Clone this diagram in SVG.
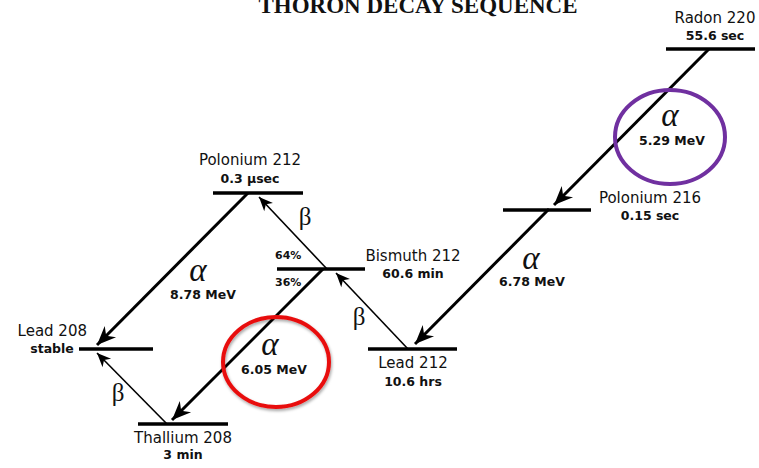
<svg xmlns="http://www.w3.org/2000/svg" width="759" height="468" viewBox="0 0 759 468">
<style>
.lvl{stroke:#000;stroke-width:3.5;fill:none}
.a{stroke:#000;stroke-width:3;fill:none;marker-end:url(#ah)}
.b{stroke:#000;stroke-width:1.6;fill:none;marker-end:url(#bh)}
.nm{font-family:"DejaVu Sans",sans-serif;font-size:15px;fill:#111;text-anchor:middle}
.hl{font-family:"DejaVu Sans",sans-serif;font-size:12.5px;font-weight:bold;fill:#111;text-anchor:middle}
.al{font-family:"Liberation Serif",serif;font-style:italic;font-size:33px;fill:#111;text-anchor:middle}
.be{font-family:"Liberation Serif",serif;font-size:25px;fill:#111;text-anchor:middle}
.pc{font-family:"DejaVu Sans",sans-serif;font-size:11px;font-weight:bold;fill:#111}
</style>
<defs>
<marker id="ah" markerUnits="userSpaceOnUse" markerWidth="24" markerHeight="20" viewBox="-20 -10 24 20" refX="0" refY="0" orient="auto">
<path d="M0,0 L-19,-8 L-13,0 L-19,8 Z" fill="#000"/>
</marker>
<marker id="bh" markerUnits="userSpaceOnUse" markerWidth="18" markerHeight="14" viewBox="-15 -7 18 14" refX="0" refY="0" orient="auto">
<path d="M0,0 L-14,-6 L-10,0 L-14,6 Z" fill="#000"/>
</marker>
<filter id="sh" x="-20%" y="-20%" width="140%" height="140%">
<feDropShadow dx="1" dy="2" stdDeviation="1.5" flood-color="#000" flood-opacity="0.35"/>
</filter>
</defs>
<text x="418" y="13" font-family="Liberation Serif, serif" font-weight="bold" font-size="23" text-anchor="middle" fill="#111">THORON DECAY SEQUENCE</text>

<g id="connectors">
<line class="a" x1="709" y1="49" x2="554" y2="205"/>
<line class="a" x1="549" y1="209" x2="415" y2="344"/>
<line class="a" x1="248" y1="193" x2="97" y2="345"/>
<line class="a" x1="323" y1="269" x2="172" y2="420"/>
<line class="b" x1="408" y1="349" x2="336" y2="273"/>
<line class="b" x1="327" y1="269" x2="259" y2="197"/>
<line class="b" x1="167" y1="424" x2="97" y2="353"/>
</g>

<g id="radon220">
<line class="lvl" x1="666" y1="49" x2="755" y2="49"/>
<text class="nm" x="715" y="23">Radon 220</text>
<text class="hl" x="715" y="40">55.6 sec</text>
</g>
<g id="polonium216">
<line class="lvl" x1="503" y1="210" x2="591" y2="210"/>
<text class="nm" x="650" y="203">Polonium 216</text>
<text class="hl" x="650" y="220">0.15 sec</text>
</g>
<g id="lead212">
<line class="lvl" x1="368" y1="349" x2="457" y2="349"/>
<text class="nm" x="413" y="368">Lead 212</text>
<text class="hl" x="413" y="386">10.6 hrs</text>
</g>
<g id="bismuth212">
<line class="lvl" x1="277" y1="269" x2="365" y2="269"/>
<text class="nm" x="413" y="261">Bismuth 212</text>
<text class="hl" x="413" y="278">60.6 min</text>
<text class="pc" x="275" y="259">64%</text>
<text class="pc" x="275" y="286">36%</text>
</g>
<g id="polonium212">
<line class="lvl" x1="213" y1="193" x2="303" y2="193"/>
<text class="nm" x="250" y="165">Polonium 212</text>
<text class="hl" x="250" y="183">0.3 µsec</text>
</g>
<g id="lead208">
<line class="lvl" x1="79" y1="349" x2="153" y2="349"/>
<text class="nm" x="87" y="336" style="text-anchor:end">Lead 208</text>
<text class="hl" x="52" y="353">stable</text>
</g>
<g id="thallium208">
<line class="lvl" x1="138" y1="424" x2="228" y2="424"/>
<text class="nm" x="183" y="443">Thallium 208</text>
<text class="hl" x="183" y="459">3 min</text>
</g>

<g id="labels">
<text class="al" x="670" y="126">α</text>
<text class="hl" x="672" y="145">5.29 MeV</text>
<text class="al" x="531" y="269">α</text>
<text class="hl" x="532" y="286">6.78 MeV</text>
<text class="al" x="198" y="281">α</text>
<text class="hl" x="203" y="299">8.78 MeV</text>
<text class="al" x="270" y="355">α</text>
<text class="hl" x="274" y="374">6.05 MeV</text>
<text class="be" x="305" y="225">β</text>
<text class="be" x="359" y="325">β</text>
<text class="be" x="118" y="401">β</text>
</g>

<g id="highlights">
<ellipse cx="670" cy="137" rx="55" ry="47" fill="none" stroke="#7030a0" stroke-width="4"/>
<ellipse cx="276" cy="362" rx="53" ry="45" fill="none" stroke="#e81010" stroke-width="4" filter="url(#sh)"/>
</g>
</svg>
